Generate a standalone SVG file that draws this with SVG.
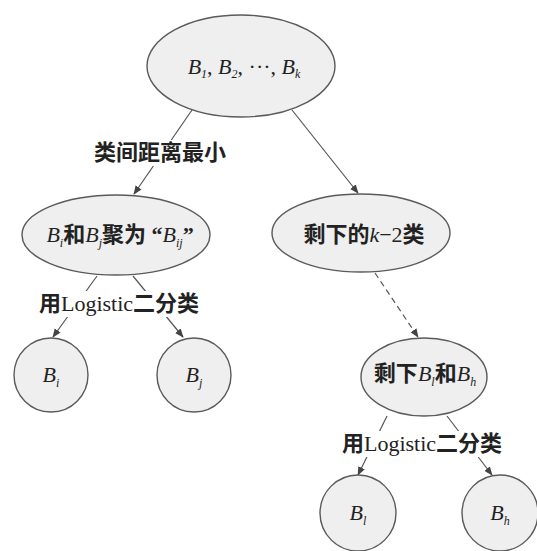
<svg xmlns="http://www.w3.org/2000/svg" width="537" height="551" viewBox="0 0 537 551">
<style>
.node{fill:#efefef;stroke:#5a5a5a;stroke-width:1.4}
.conn{stroke:#555;stroke-width:1.2;fill:none}
.dash{stroke-dasharray:6 4}
.b{font-family:"Liberation Serif",serif;font-style:italic;font-weight:normal;font-size:22px;fill:#222}
.sub{font-family:"Liberation Serif",serif;font-style:italic;font-weight:normal;font-size:12px}
.cn{font-family:"Liberation Serif","Noto Sans CJK SC",sans-serif;font-size:22px;font-weight:bold;fill:#222}
.lbl{font-family:"Liberation Serif","Noto Sans CJK SC",sans-serif;font-size:22px;font-weight:bold;fill:#222}
.lat{font-weight:normal;font-size:22px}
.bg{fill:#fff}
</style>
<defs>
<marker id="arr" viewBox="0 0 10 10" refX="9" refY="5" markerWidth="9" markerHeight="9" markerUnits="userSpaceOnUse" orient="auto">
<path d="M0,1 L10,5 L0,9 Z" fill="#444"/>
</marker>
</defs>
<g id="connectors">
<line class="conn" x1="192" y1="110" x2="134" y2="194" marker-end="url(#arr)"/>
<line class="conn" x1="292" y1="110" x2="358" y2="193" marker-end="url(#arr)"/>
<line class="conn dash" x1="375" y1="273" x2="418" y2="337" marker-end="url(#arr)"/>
<line class="conn" x1="97" y1="276" x2="53" y2="337" marker-end="url(#arr)"/>
<line class="conn" x1="133" y1="276" x2="183" y2="337" marker-end="url(#arr)"/>
<line class="conn" x1="387" y1="416" x2="358" y2="475" marker-end="url(#arr)"/>
<line class="conn" x1="447" y1="416" x2="492" y2="475" marker-end="url(#arr)"/>
</g>
<g id="labels">
<rect class="bg" x="84" y="140" width="152" height="26"/>
<text class="lbl" x="160" y="160" text-anchor="middle">类间距离最小</text>
<rect class="bg" x="34" y="291" width="170" height="26"/>
<text class="lbl" x="119" y="311" text-anchor="middle">用<tspan class="lat">Logistic</tspan>二分类</text>
<rect class="bg" x="337" y="431" width="170" height="26"/>
<text class="lbl" x="422" y="451" text-anchor="middle">用<tspan class="lat">Logistic</tspan>二分类</text>
</g>
<g id="node-top">
<ellipse class="node" cx="241" cy="66" rx="94" ry="51"/>
<text class="b" x="244" y="74" text-anchor="middle">B<tspan class="sub" dy="4">1</tspan><tspan font-style="normal" dy="-4">, </tspan>B<tspan class="sub" dy="4">2</tspan><tspan font-style="normal" dy="-4">, ···, </tspan>B<tspan class="sub" dy="4">k</tspan></text>
</g>
<g id="node-merge">
<ellipse class="node" cx="116" cy="235" rx="94" ry="40"/>
<text class="cn" x="120" y="242" text-anchor="middle"><tspan class="b">B</tspan><tspan class="sub" dy="5">i</tspan><tspan dy="-5">和</tspan><tspan class="b">B</tspan><tspan class="sub" dy="5">j</tspan><tspan dy="-5">聚为 “</tspan><tspan class="b">B</tspan><tspan class="sub" dy="5">ij</tspan><tspan dy="-5">”</tspan></text>
</g>
<g id="node-rest">
<ellipse class="node" cx="361" cy="233" rx="89" ry="39"/>
<text class="cn" x="364" y="242" text-anchor="middle">剩下的<tspan class="b">k</tspan><tspan font-weight="normal" font-size="22">−2</tspan>类</text>
</g>
<g id="node-remain">
<ellipse class="node" cx="424" cy="377" rx="63" ry="39"/>
<text class="cn" x="425" y="381" text-anchor="middle">剩下<tspan class="b">B</tspan><tspan class="sub" dy="5">l</tspan><tspan dy="-5">和</tspan><tspan class="b">B</tspan><tspan class="sub" dy="5">h</tspan></text>
</g>
<g id="node-bi">
<circle class="node" cx="51" cy="375" r="37"/>
<text class="b" x="51" y="382" text-anchor="middle">B<tspan class="sub" dy="5">i</tspan></text>
</g>
<g id="node-bj">
<circle class="node" cx="194" cy="375" r="37"/>
<text class="b" x="194" y="382" text-anchor="middle">B<tspan class="sub" dy="5">j</tspan></text>
</g>
<g id="node-bl">
<circle class="node" cx="358" cy="513" r="38"/>
<text class="b" x="358" y="520" text-anchor="middle">B<tspan class="sub" dy="5">l</tspan></text>
</g>
<g id="node-bh">
<circle class="node" cx="500" cy="513" r="38"/>
<text class="b" x="500" y="520" text-anchor="middle">B<tspan class="sub" dy="5">h</tspan></text>
</g>
</svg>
